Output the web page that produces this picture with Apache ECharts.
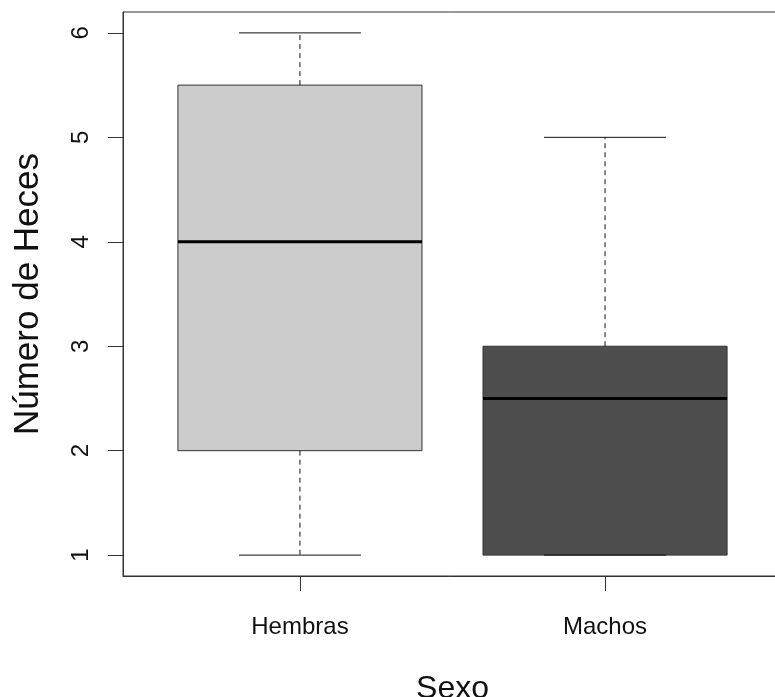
<!DOCTYPE html>
<html>
<head>
<meta charset="utf-8">
<script src="https://cdn.jsdelivr.net/npm/echarts@6/dist/echarts.min.js"></script>
<style>
html,body{margin:0;padding:0;background:#fff;}
#chart{width:775px;height:697px;}
</style>
</head>
<body>
<div id="chart"></div>
<script>
// ---- data ----
const categories = ['Hembras', 'Machos'];
// [min, Q1, median, Q3, max]
const hembrasStats = [1, 2, 4, 5.5, 6];
const machosStats = [1, 1, 2.5, 3, 5];
const yTicks = [1, 2, 3, 4, 5, 6];
const xTitle = 'Sexo';
const yTitle = 'Número de Heces';

// ---- styles ----
const boxFills = ['#cccccc', '#4d4d4d'];
const FONT = 'Liberation Sans, Arial, Helvetica, sans-serif';

const allStats = [hembrasStats, machosStats];
const boxData = allStats.map((s, i) => [i + 1].concat(s));

const chart = echarts.init(document.getElementById('chart'), null, {renderer: 'canvas'});

function renderItem(params, api) {
  const x = api.value(0);
  const mn = api.value(1), q1 = api.value(2), md = api.value(3), q3 = api.value(4), mx = api.value(5);
  const hw = 0.4, cw = 0.2;
  const p = (a, b) => api.coord([a, b]);
  const tl = p(x - hw, q3), br = p(x + hw, q1);
  const lineStyle = {stroke: '#111', lineWidth: 1, fill: null};
  const dashStyle = {stroke: '#111', lineWidth: 1, lineDash: [5, 4], fill: null};
  const c = params.dataIndex;
  const els = [];
  // box
  els.push({type: 'rect', shape: {x: tl[0], y: tl[1], width: br[0] - tl[0], height: br[1] - tl[1]},
    style: {fill: boxFills[c], stroke: '#333', lineWidth: 1}});
  // whiskers
  const up0 = p(x, q3), up1 = p(x, mx), lo0 = p(x, q1), lo1 = p(x, mn);
  if (mx > q3) els.push({type: 'line', shape: {x1: up0[0], y1: up0[1], x2: up1[0], y2: up1[1]}, style: dashStyle});
  if (q1 > mn) els.push({type: 'line', shape: {x1: lo0[0], y1: lo0[1], x2: lo1[0], y2: lo1[1]}, style: dashStyle});
  // caps
  const ca = p(x - cw, mx), cb = p(x + cw, mx);
  els.push({type: 'line', shape: {x1: ca[0], y1: ca[1], x2: cb[0], y2: cb[1]}, style: lineStyle});
  const cc = p(x - cw, mn), cd = p(x + cw, mn);
  els.push({type: 'line', shape: {x1: cc[0], y1: cc[1], x2: cd[0], y2: cd[1]}, style: lineStyle});
  // median
  const ma = p(x - hw, md), mb = p(x + hw, md);
  els.push({type: 'line', shape: {x1: ma[0], y1: ma[1], x2: mb[0], y2: mb[1]}, style: {stroke: '#000', lineWidth: 3}});
  return {type: 'group', children: els};
}

chart.setOption({
  animation: false,
  backgroundColor: '#fff',
  grid: {left: 123, top: 12, width: 659, height: 564, show: true, borderColor: '#333', borderWidth: 1,
    backgroundColor: 'transparent', containLabel: false, outerBoundsMode: 'none'},
  xAxis: {
    type: 'value', min: 0.42, max: 2.58,
    name: xTitle, nameLocation: 'middle', nameGap: 97,
    nameTextStyle: {fontFamily: FONT, fontSize: 32, color: '#111'},
    axisLine: {show: true, onZero: false, lineStyle: {color: '#333', width: 1}},
    axisTick: {show: true, customValues: [1, 2], length: 15, lineStyle: {color: '#333'}},
    axisLabel: {customValues: [1, 2], margin: 39, fontFamily: FONT, fontSize: 24, color: '#111',
      formatter: v => categories[Math.round(v) - 1]},
    splitLine: {show: false}
  },
  yAxis: {
    type: 'value', min: 0.8, max: 6.2,
    name: yTitle, nameLocation: 'middle', nameGap: 77,
    nameTextStyle: {fontFamily: FONT, fontSize: 35, color: '#111'},
    axisLine: {show: true, onZero: false, lineStyle: {color: '#333', width: 1}},
    axisTick: {show: true, customValues: yTicks, length: 15, lineStyle: {color: '#333'}},
    axisLabel: {customValues: yTicks, rotate: 90, margin: 30, fontFamily: FONT, fontSize: 24, color: '#111'},
    splitLine: {show: false}
  },
  series: [{
    type: 'custom',
    renderItem: renderItem,
    encode: {x: 0, y: [1, 2, 3, 4, 5]},
    data: boxData,
    clip: false
  }]
});
</script>
</body>
</html>
